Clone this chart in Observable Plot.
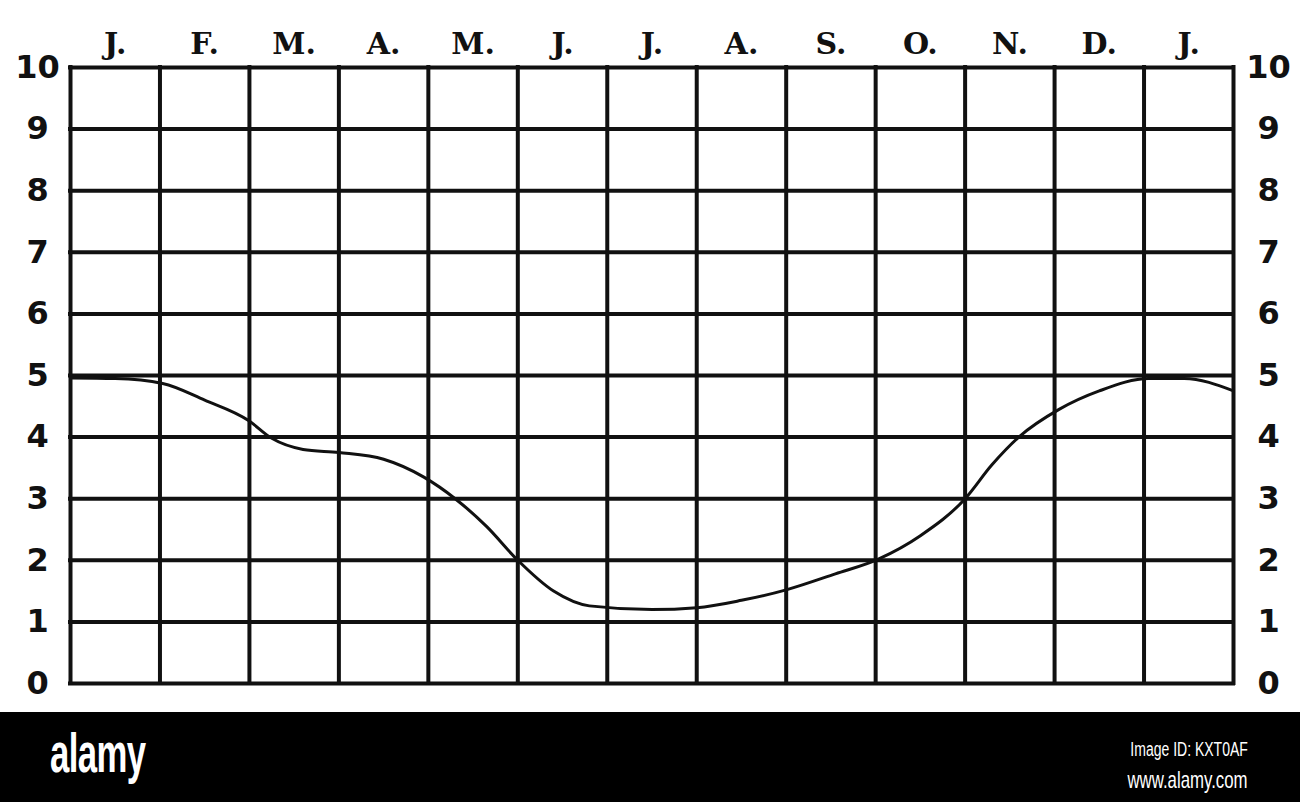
<!DOCTYPE html>
<html>
<head>
<meta charset="utf-8">
<script src="https://cdn.jsdelivr.net/npm/d3@7"></script>
<script src="https://cdn.jsdelivr.net/npm/@observablehq/plot@0.6"></script>
<style>
  html, body { margin: 0; padding: 0; background: #fff; }
  #chart svg { display: block; }
  #band { width: 1300px; height: 90px; background: #000; position: relative; color: #fff;
          font-family: "Liberation Sans", "DejaVu Sans", sans-serif; }
  #logo { position: absolute; left: 50px; top: 8px; font-size: 56px; font-weight: bold;
          transform: scaleX(0.62); transform-origin: left top; letter-spacing: -1px; }
  #imgid { position: absolute; right: 52px; top: 26px; font-size: 20px;
           transform: scaleX(0.7); transform-origin: right top; }
  #www { position: absolute; right: 52px; top: 54px; font-size: 24px;
         transform: scaleX(0.7); transform-origin: right top; }
</style>
</head>
<body>
<div id="chart"></div>
<div id="band"><div id="logo">alamy</div><div id="imgid">Image ID: KXT0AF</div><div id="www">www.alamy.com</div></div>
<script>
// Month labels across the top (one per column)
const months = ["J.", "F.", "M.", "A.", "M.", "J.", "J.", "A.", "S.", "O.", "N.", "D.", "J."];
// Y tick values (both sides)
const yTicks = [0, 1, 2, 3, 4, 5, 6, 7, 8, 9, 10];
// Curve, position in month-columns from the left edge, and value
const curvePos = [0, 0.5, 1.03, 1.5, 1.99, 2.25, 2.6, 3.0, 3.5, 3.95, 4.3, 4.65, 5.0, 5.4, 5.8, 6.5, 7.0, 7.5, 8.0, 8.55, 9.03, 9.5, 10.0, 10.3, 10.6, 11.05, 11.5, 12.05, 12.45, 13];
const curveVal = [4.96, 4.95, 4.87, 4.6, 4.27, 3.98, 3.8, 3.75, 3.64, 3.35, 3.0, 2.55, 2.0, 1.5, 1.26, 1.2, 1.23, 1.35, 1.52, 1.78, 2.02, 2.4, 3.0, 3.55, 4.0, 4.45, 4.75, 4.95, 4.95, 4.75];

const curveData = curvePos.map((x, i) => ({x, y: curveVal[i]}));
const colEdges = d3.range(months.length + 1);
const colCenters = months.map((m, i) => i + 0.5);
const ink = "#111";

const chart = Plot.plot({
  width: 1300,
  height: 712,
  marginTop: 67,
  marginBottom: 29,
  marginLeft: 70,
  marginRight: 67,
  x: {domain: [0, months.length]},
  y: {domain: [0, 10]},
  style: {background: "#fff", color: ink},
  marks: [
    Plot.ruleY(yTicks, {stroke: ink, strokeWidth: 4, strokeLinecap: "square"}),
    Plot.ruleX(colEdges, {stroke: ink, strokeWidth: 4, strokeLinecap: "square"}),
    Plot.line(curveData, {x: "x", y: "y", curve: "monotone-x", stroke: ink, strokeWidth: 3}),
    Plot.axisX(colCenters, {anchor: "top", label: null, tickSize: 0, tickPadding: 14,
      tickFormat: d => months[Math.floor(d)], fontSize: 30, fontWeight: "bold",
      fontFamily: "DejaVu Serif", fill: ink}),
    Plot.axisY(yTicks, {anchor: "left", label: null, tickSize: 0, tickPadding: 33, textAnchor: "middle",
      tickFormat: "d", fontSize: 32, fontWeight: "bold", fontFamily: "DejaVu Sans", fill: ink}),
    Plot.axisY(yTicks, {anchor: "right", label: null, tickSize: 0, tickPadding: 35, textAnchor: "middle",
      tickFormat: "d", fontSize: 32, fontWeight: "bold", fontFamily: "DejaVu Sans", fill: ink})
  ]
});
document.getElementById("chart").appendChild(chart);
</script>
</body>
</html>
